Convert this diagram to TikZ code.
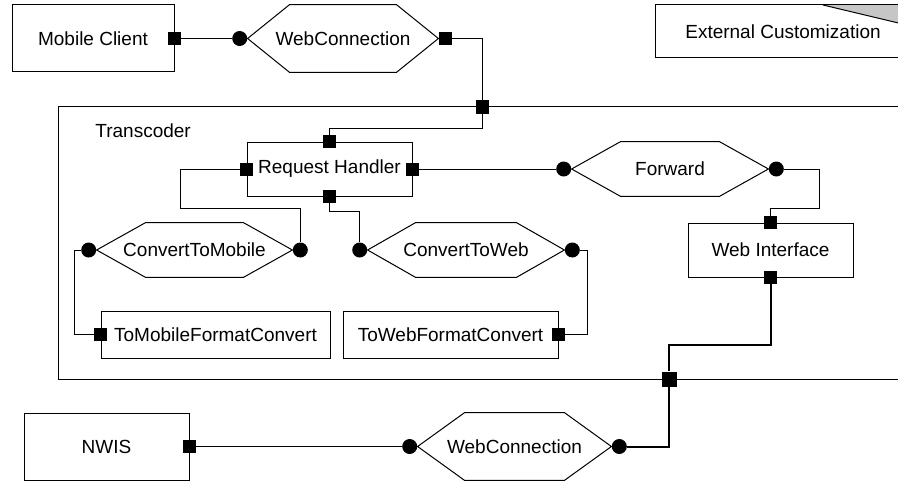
\documentclass[tikz,border=0pt]{standalone}
\usepackage{fontspec}
\setmainfont{Liberation Sans}
\usepackage{tikz}
\usetikzlibrary{positioning}
\tikzset{comp/.style = {draw, inner sep = 0, line width = 0.5pt,
                        font = \fontsize{9.5}{11}\selectfont}}
\tikzset{conn/.style = {inner sep = 0, font = \fontsize{9.5}{11}\selectfont}}
\tikzset{sq/.style = {fill, inner sep = 0, minimum size = 6.5pt}}
\tikzset{circ/.style = {fill, circle, inner sep = 0, minimum size = 7.5pt}}
\tikzset{wire/.style = {line width = 0.5pt}}
\newcommand{\hexbox}[2]{%
  \draw [wire] (#1.west) -- ([xshift=#2]#1.north west) -- ([xshift=-#2]#1.north east)
    -- (#1.east) -- ([xshift=-#2]#1.south east) -- ([xshift=#2]#1.south west) -- cycle;}

\begin{document}
\begin{tikzpicture}[x=0.5pt, y=-0.5pt]
      \clip (0, 0) rectangle (898, 481);

      % outer parts
      \node [comp, minimum width = 81pt, minimum height = 33.5pt] (mobile) at (93, 38.5) {Mobile Client};
      \node [conn, minimum width = 95pt, minimum height = 33.5pt] (wc1) at (343, 38.5) {WebConnection};
      \hexbox{wc1}{21pt}
      \fill [gray!45] (823, 5) -- (911, 5) -- (911, 26) -- cycle;
      \node [comp, minimum width = 128pt, minimum height = 26.5pt] (ext) at (783, 31.5) {External Customization};
      \draw [wire] (823, 5) -- (911, 26);

      % transcoder
      \node [comp, minimum width = 431pt, minimum height = 136pt] (trans) at (489, 243) {};
      \node [conn, anchor = west] (tlabel) at (95, 131) {Transcoder};
      \node [comp, minimum width = 82.5pt, minimum height = 27pt] (req) at (329.5, 169) {Request Handler};
      \node [conn, minimum width = 98pt, minimum height = 27pt] (fwd) at (670, 169) {Forward};
      \hexbox{fwd}{24.5pt}
      \node [conn, minimum width = 97.5pt, minimum height = 27pt] (ctm) at (194.5, 250) {ConvertToMobile};
      \hexbox{ctm}{24.5pt}
      \node [conn, minimum width = 98pt, minimum height = 27pt] (ctw) at (466, 250) {ConvertToWeb};
      \hexbox{ctw}{24pt}
      \node [comp, minimum width = 82.5pt, minimum height = 27pt] (webif) at (770.5, 250) {Web Interface};
      \node [comp, minimum width = 114.5pt, minimum height = 23.5pt] (tomob) at (215.5, 334.5) {ToMobileFormatConvert};
      \node [comp, minimum width = 107.5pt, minimum height = 23.5pt] (toweb) at (450.5, 334.5) {ToWebFormatConvert};

      % bottom parts
      \node [comp, minimum width = 82.5pt, minimum height = 33.5pt] (nwis) at (106.5, 446.5) {NWIS};
      \node [conn, minimum width = 96.5pt, minimum height = 33.5pt] (wc2) at (514.5, 446.5) {WebConnection};
      \hexbox{wc2}{23.5pt}

      % ports
      \node [sq] (mcp) at (mobile.east) {};
      \node [circ, anchor = east] (wc1l) at (wc1.west) {};
      \node [sq, anchor = west] (wc1r) at (wc1.east) {};
      \node [sq] (tcp) at (482, 107) {};
      \node [sq] (rqt) at (req.north) {};
      \node [sq] (rql) at (req.west) {};
      \node [sq] (rqr) at (req.east) {};
      \node [sq] (rqb) at (req.south) {};
      \node [circ, anchor = east] (fwdl) at (fwd.west) {};
      \node [circ, anchor = west] (fwdr) at (fwd.east) {};
      \node [circ, anchor = east] (ctml) at (ctm.west) {};
      \node [circ, anchor = west] (ctmr) at (ctm.east) {};
      \node [circ, anchor = east] (ctwl) at (ctw.west) {};
      \node [circ, anchor = west] (ctwr) at (ctw.east) {};
      \node [sq] (wit) at (webif.north) {};
      \node [sq] (wib) at (webif.south) {};
      \node [sq] (tmp) at (tomob.west) {};
      \node [sq] (twp) at (toweb.east) {};
      \node [sq, minimum size = 7.5pt] (tcb) at (669, 379) {};
      \node [sq] (nwp) at (nwis.east) {};
      \node [circ, anchor = east] (wc2l) at (wc2.west) {};
      \node [circ, anchor = west] (wc2r) at (wc2.east) {};

      % wires
      \draw [wire] (mcp) -- (wc1l);
      \draw [wire] (wc1r) -| (tcp);
      \draw [wire] (tcp) -- ++(0, 21) -| (rqt);
      \draw [wire] (rql) -| (180, 208) -| (ctmr);
      \draw [wire] (ctml) -- ++(-14, 0) |- (tmp);
      \draw [wire] (rqb) -- ++(0, 15) -| (ctwl);
      \draw [wire] (ctwr) -- ++(15, 0) |- (twp);
      \draw [wire] (rqr) -- (fwdl);
      \draw [wire] (fwdr) -- ++(43, 0) -- ++(0, 39) -| (wit);
      \draw [line width = 1pt] (wib) -- ++(0, 67) -| (tcb);
      \draw [line width = 1pt] (tcb) |- (wc2r);
      \draw [wire] (nwp) -- (wc2l);
    \end{tikzpicture}
\end{document}
